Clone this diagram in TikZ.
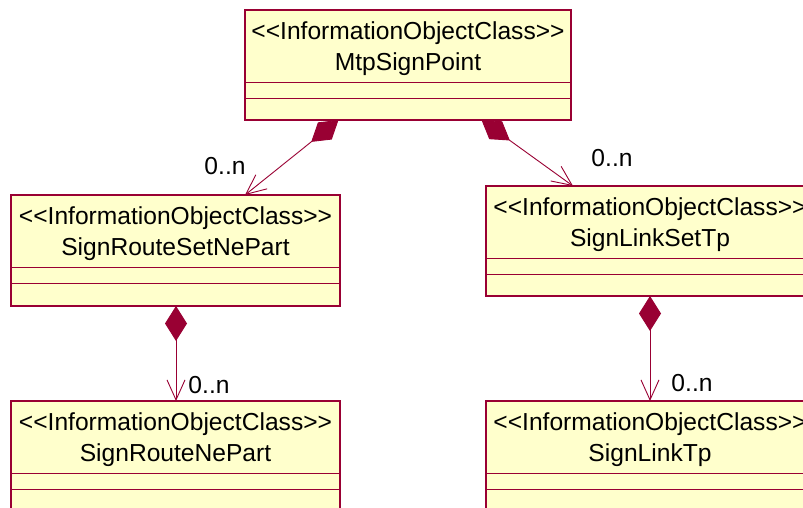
\documentclass[tikz,border=0pt]{standalone}
\usepackage{fontspec}
\setmainfont{Liberation Sans}
\usetikzlibrary{arrows.meta}
\definecolor{umlred}{RGB}{153,0,51}
\definecolor{umlfill}{RGB}{255,255,204}
\tikzset{
  umlbox/.style={draw=umlred, fill=umlfill, line width=1.3pt, rectangle, anchor=north west, minimum width=327pt, minimum height=110pt, inner sep=0pt, outer sep=0pt},
  lbl/.style={font=\fontsize{24.6}{29}\selectfont, inner sep=0pt, anchor=center, text=black},
  div/.style={draw=umlred, line width=0.8pt},
  comp/.style={draw=umlred, line width=0.9pt, {Diamond[length=35pt,width=22pt,fill=umlred]}-{Straight Barb[length=20pt,width=18pt,line width=0.9pt]}}
}
\begin{document}
\begin{tikzpicture}[x=1pt,y=-1pt]
\useasboundingbox (0,0) rectangle (803,508);
\clip (0,0) rectangle (803,508);
\fill[white] (0,0) rectangle (803,508);
% connector end points
\coordinate (d1) at (338.5,120);
\coordinate (a1) at (245,195);
\coordinate (d2) at (481.5,120);
\coordinate (a2) at (573,186);
\coordinate (d3) at (176,306);
\coordinate (a3) at (176,401);
\coordinate (d4) at (650,296);
\coordinate (a4) at (650,401);
\draw[comp] (d1) -- (a1);
\draw[comp] (d2) -- (a2);
\draw[comp] (d3) -- (a3);
\draw[comp] (d4) -- (a4);
% boxes
\node[umlbox, minimum width=326pt, minimum height=110pt] (msp) at (245,10) {};
\node[umlbox, minimum width=329pt, minimum height=111pt] (srsnp) at (11,195) {};
\node[umlbox, minimum width=328pt, minimum height=110pt] (slst) at (486,186) {};
\node[umlbox, minimum width=329pt, minimum height=120pt] (srnp) at (11,401) {};
\node[umlbox, minimum width=328pt, minimum height=120pt] (sltp) at (486,401) {};
% texts
\foreach \b/\t in {msp/MtpSignPoint, srsnp/SignRouteSetNePart, slst/SignLinkSetTp, srnp/SignRouteNePart, sltp/SignLinkTp}{
  \node[lbl] (\b-st) at ([yshift=-23pt]\b.north) {<{}<InformationObjectClass>{}>};
  \node[lbl] (\b-nm) at ([yshift=-54pt]\b.north) {\t};
  \draw[div] ([yshift=-72pt]\b.north west) -- ([yshift=-72pt]\b.north east);
  \draw[div] ([yshift=-88pt]\b.north west) -- ([yshift=-88pt]\b.north east);
}
% multiplicities
\node[lbl] (m1) at (225,166) {0..n};
\node[lbl] (m2) at (612,158) {0..n};
\node[lbl] (m3) at (209,385) {0..n};
\node[lbl] (m4) at (692,383) {0..n};
\end{tikzpicture}
\end{document}
